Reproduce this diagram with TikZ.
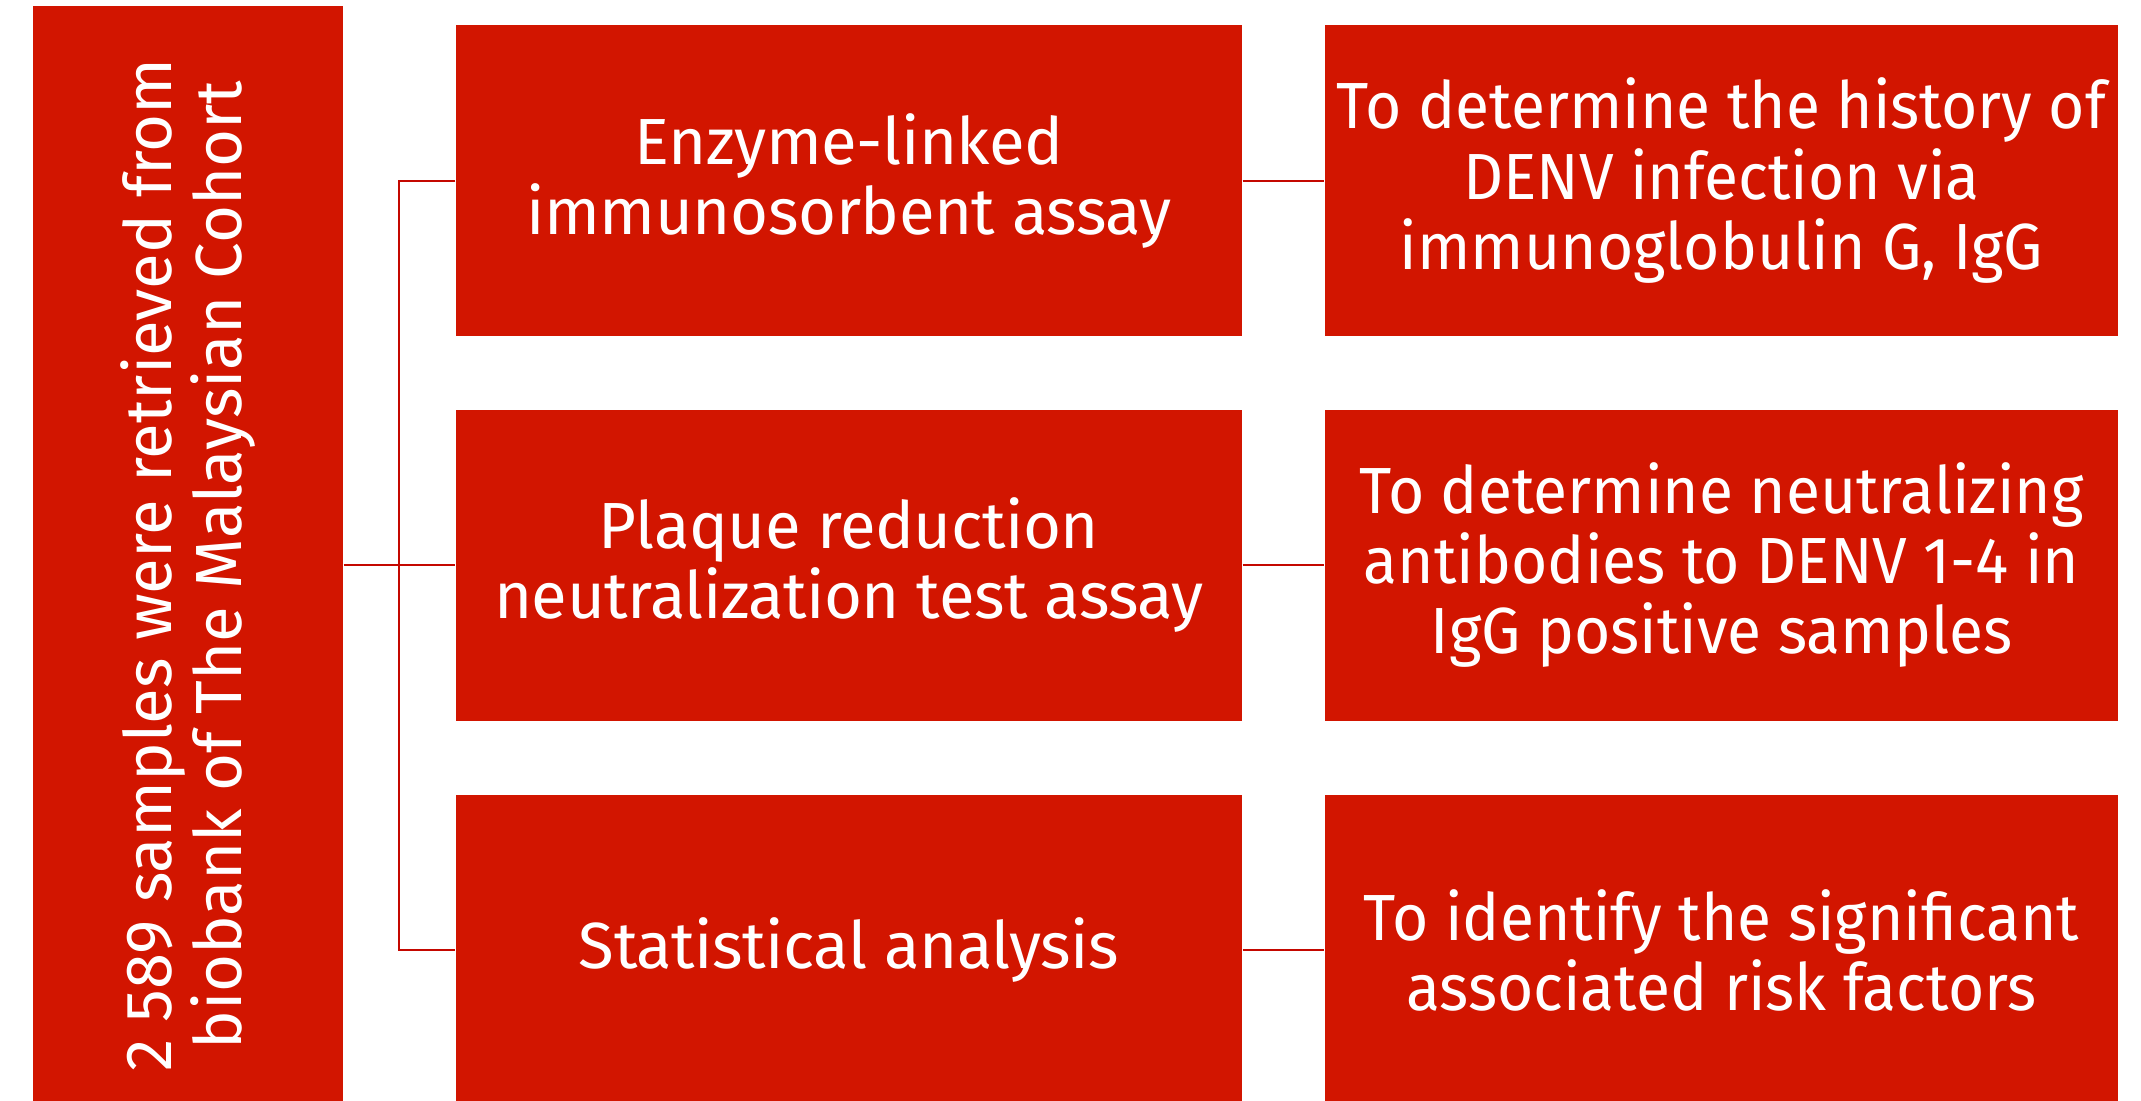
\documentclass[tikz,border=0pt]{standalone}
\usepackage{fontspec}
\setmainfont{Fira Sans}
\newfontfamily\midfont[LetterSpace=-0.7]{Fira Sans}
\newfontfamily\sidefont[FakeStretch=0.955]{Fira Sans}
\usetikzlibrary{positioning}

\definecolor{boxred}{RGB}{210,21,0}
\definecolor{linkred}{RGB}{196,8,0}

\begin{document}
\begin{tikzpicture}[
    x=0.0125cm,
    y=-0.0125cm,
    box/.style={fill=boxred, draw=none, text=white, align=center, inner sep=0pt,
      font=\fontsize{23.2}{24.9}\selectfont},
    midbox/.style={box, minimum width=786*0.0125cm, minimum height=311*0.0125cm,
      font=\midfont\fontsize{23.2}{24.9}\selectfont},
    goalbox/.style={box, minimum width=793*0.0125cm, minimum height=311*0.0125cm,
      font=\sidefont\fontsize{23.2}{24.9}\selectfont},
    link/.style={draw=linkred, line width=0.7pt},
  ]
  \useasboundingbox (0,0) rectangle (2141,1100);
  \clip (0,0) rectangle (2141,1100);

  % samples column
  \node[box, minimum width=310*0.0125cm, minimum height=1118*0.0125cm] (src) at (188,565) {};
  \node[text=white, rotate=90, align=center, inner sep=0pt,
    font=\fontsize{23.2}{24.9}\selectfont] (srctext) at (src.center)
    {2 589 samples were retrieved from\\biobank of The Malaysian Cohort};

  % methods
  \node[midbox] (m1) at (849,180.5) {Enzyme-linked\\immunosorbent assay};
  \node[midbox] (m2) at (849,565) {Plaque reduction\\neutralization test assay};
  \node[midbox] (m3) at (849,950) {Statistical analysis};

  % aims
  \node[goalbox] (r1) at (1721.5,180.5) {To determine the history of\\DENV infection via\\immunoglobulin G, IgG};
  \node[goalbox] (r2) at (1721.5,565) {To determine neutralizing\\antibodies to DENV 1-4 in\\IgG positive samples};
  \node[goalbox] (r3) at (1721.5,950) {To identify the significant\\associated risk factors};

  % connectors
  \coordinate (bus) at (399,565);
  \draw[link] (src.east) -- (m2.west);
  \draw[link] (m1.west) -| (bus) |- (m3.west);
  \foreach \i in {1,2,3} {
    \draw[link] (m\i.east) -- (r\i.west);
  }
\end{tikzpicture}
\end{document}
